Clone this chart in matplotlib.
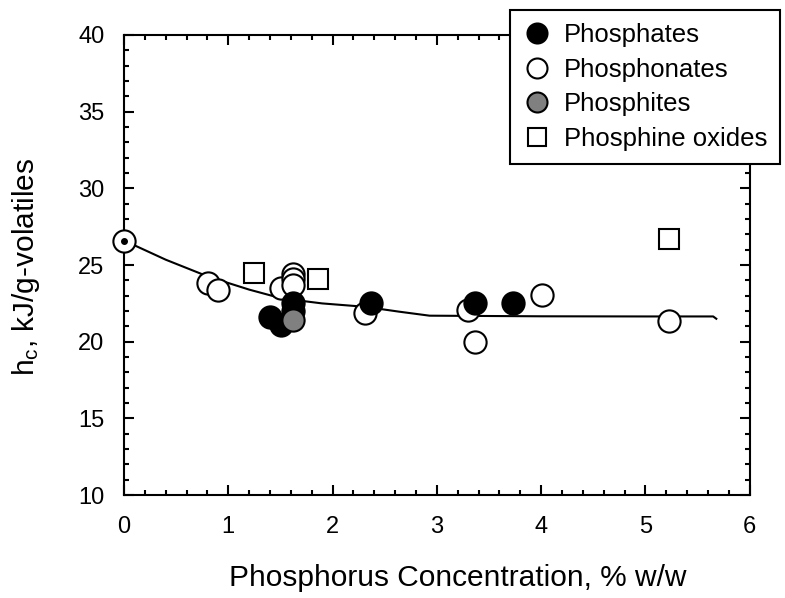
import matplotlib.pyplot as plt
from matplotlib.ticker import MultipleLocator

plt.rcParams['font.family'] = ['Liberation Sans', 'DejaVu Sans']
plt.rcParams['mathtext.fontset'] = 'custom'
plt.rcParams['mathtext.rm'] = 'Liberation Sans'
plt.rcParams['mathtext.it'] = 'Liberation Sans:italic'

# data
phosphates_x = [1.40, 1.51, 1.62, 1.62, 2.37, 3.37, 3.73]
phosphates_y = [21.6, 21.1, 22.5, 22.0, 22.5, 22.5, 22.5]

phosphonates_x = [0.81, 0.90, 1.51, 1.62, 1.62, 1.62, 2.31, 3.30, 3.37, 4.01, 5.23]
phosphonates_y = [23.8, 23.4, 23.5, 24.4, 24.1, 23.7, 21.85, 22.07, 20.0, 23.05, 21.37]

phosphites_x = [1.62]
phosphites_y = [21.4]

oxides_x = [1.25, 1.86, 5.23]
oxides_y = [24.46, 24.1, 26.7]

neat_x = [0.0]
neat_y = [26.6]

fit_x = [0.0, 0.4, 0.81, 1.2, 1.51, 1.9, 2.31, 2.64, 2.93, 4.0, 5.0, 5.65, 5.68]
fit_y = [26.6, 25.35, 24.24, 23.4, 22.83, 22.5, 22.28, 21.96, 21.7, 21.66, 21.65, 21.65, 21.5]

fig = plt.figure(figsize=(7.85, 5.98), dpi=100)
ax = fig.add_axes([0.158, 0.172, 0.797, 0.7695])

ax.plot(fit_x, fit_y, color='black', lw=1.5, zorder=2)

ms = 16
ax.plot(phosphonates_x, phosphonates_y, 'o', ms=ms, mfc='white', mec='black', mew=1.5,
        ls='none', zorder=3, label='Phosphonates')
ax.plot(phosphates_x, phosphates_y, 'o', ms=ms, mfc='black', mec='black', mew=1.5,
        ls='none', zorder=4, label='Phosphates')
ax.plot(phosphites_x, phosphites_y, 'o', ms=ms, mfc='#808080', mec='black', mew=1.5,
        ls='none', zorder=5, label='Phosphites')
ax.plot(oxides_x, oxides_y, 's', ms=14, mfc='white', mec='black', mew=1.5,
        ls='none', zorder=3, label='Phosphine oxides')
ax.plot(neat_x, neat_y, 'o', ms=ms, mfc='white', mec='black', mew=1.5, ls='none', zorder=6,
        clip_on=False)
ax.plot(neat_x, neat_y, 'o', ms=4, mfc='black', mec='black', ls='none', zorder=7, clip_on=False)

ax.set_xlim(0, 6)
ax.set_ylim(10, 40)
ax.xaxis.set_major_locator(MultipleLocator(1))
ax.xaxis.set_minor_locator(MultipleLocator(0.2))
ax.yaxis.set_major_locator(MultipleLocator(5))
ax.yaxis.set_minor_locator(MultipleLocator(1))
ax.tick_params(which='both', direction='in', top=True, right=True, width=1.5,
               labelsize=17, colors='black')
ax.tick_params(which='major', length=7)
ax.tick_params(axis='x', which='major', pad=15)
ax.tick_params(axis='y', which='major', pad=14)
ax.tick_params(which='minor', length=3.5)
for s in ax.spines.values():
    s.set_linewidth(1.5)

ax.set_xlabel('Phosphorus Concentration, % w/w', fontsize=21.5, va='center', ha='center')
ax.xaxis.set_label_coords((458 - 124) / 626, (495 - 578) / 460)
ax.set_ylabel(r'h$_\mathrm{c}$, kJ/g-volatiles', fontsize=21.5, va='center', ha='center')
ax.yaxis.set_label_coords((26 - 124) / 626, (495 - 267) / 460)

handles, labels = ax.get_legend_handles_labels()
order = [1, 0, 2, 3]
leg = fig.legend([handles[i] for i in order], [labels[i] for i in order],
                 loc='upper left', bbox_to_anchor=(510 / 785, 1 - 10 / 598),
                 fontsize=18.5, frameon=True, fancybox=False, edgecolor='black',
                 markerscale=0.9, handlelength=1.1, handletextpad=0.5,
                 labelspacing=0.42, borderpad=0.5, borderaxespad=0)
leg.get_frame().set_linewidth(1.5)
leg.get_frame().set_alpha(1)

fig.savefig('out.png', dpi=100)
